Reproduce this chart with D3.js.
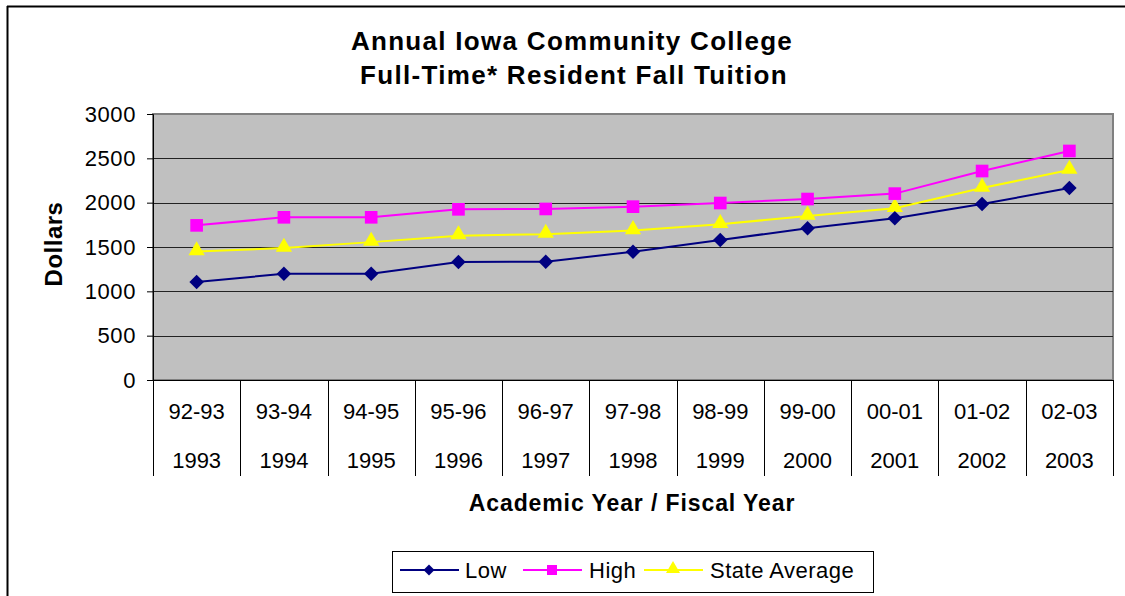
<!DOCTYPE html>
<html>
<head>
<meta charset="utf-8">
<script src="https://cdn.jsdelivr.net/npm/d3@7"></script>
<style>
	body { margin: 0; background: #fff; }
	text { font-family: "Liberation Sans", Arial, sans-serif; }
</style>
</head>
<body>
<svg width="1125" height="596"></svg>
<script>
// data
var academicYears = ['92-93','93-94','94-95','95-96','96-97','97-98','98-99','99-00','00-01','01-02','02-03'];
var fiscalYears = ['1993','1994','1995','1996','1997','1998','1999','2000','2001','2002','2003'];
var lowValues = [1105, 1198, 1198, 1330, 1334, 1447, 1579, 1711, 1824, 1985, 2165];
var highValues = [1744, 1835, 1835, 1925, 1929, 1955, 1996, 2041, 2102, 2357, 2583];
var avgValues = [1448, 1488, 1555, 1628, 1645, 1686, 1756, 1850, 1936, 2165, 2368];
var yTicks = [0, 500, 1000, 1500, 2000, 2500, 3000];

var svg = d3.select("svg"),
	width = +svg.attr("width"),
	height = +svg.attr("height");

var plot = { left: 153, right: 1113, top: 114, bottom: 380 };

// outer frame (only top and left edges show in the picture)
svg.append("line").attr("x1", 7).attr("y1", 6.5).attr("x2", width).attr("y2", 6.5)
	.attr("stroke", "#000").attr("stroke-width", 2);
svg.append("line").attr("x1", 7.5).attr("y1", 6).attr("x2", 7.5).attr("y2", height)
	.attr("stroke", "#000").attr("stroke-width", 2);

var x = d3.scaleBand()
	.domain(fiscalYears)
	.range([plot.left, plot.right]);

var y = d3.scaleLinear()
	.domain([0, 3000])
	.range([plot.bottom, plot.top]);

// plot background
svg.append("rect")
	.attr("x", plot.left).attr("y", plot.top)
	.attr("width", plot.right - plot.left).attr("height", plot.bottom - plot.top)
	.attr("fill", "#c0c0c0")
	.attr("stroke", "#808080").attr("stroke-width", 2);

// gridlines
svg.append("g")
	.selectAll("line")
	.data(yTicks.filter(function(d) { return d > 0 && d < 3000; }))
	.enter().append("line")
		.attr("x1", plot.left).attr("x2", plot.right)
		.attr("y1", function(d) { return Math.round(y(d)) + 0.5; })
		.attr("y2", function(d) { return Math.round(y(d)) + 0.5; })
		.attr("stroke", "#222").attr("stroke-width", 1);

// y axis
var yAxis = svg.append("g")
	.attr("transform", "translate(" + plot.left + ",0)")
	.call(d3.axisLeft(y).tickValues(yTicks).tickSize(6).tickPadding(11).tickFormat(d3.format("d")));
yAxis.select(".domain").attr("stroke", "#000");
yAxis.selectAll("text").attr("font-size", 22).attr("letter-spacing", 0.6).attr("fill", "#000")
	.attr("font-family", "Liberation Sans, Arial, sans-serif");

// category table below x axis
svg.append("line").attr("x1", plot.left - 6).attr("x2", plot.right + 1)
	.attr("y1", plot.bottom + 0.5).attr("y2", plot.bottom + 0.5).attr("stroke", "#000");

var bounds = fiscalYears.map(function(d) { return x(d); }).concat([plot.right]);
svg.append("g")
	.selectAll("line")
	.data(bounds)
	.enter().append("line")
		.attr("x1", function(d) { return Math.round(d) + 0.5; })
		.attr("x2", function(d) { return Math.round(d) + 0.5; })
		.attr("y1", plot.bottom).attr("y2", 476)
		.attr("stroke", "#000");

svg.append("g")
	.selectAll("text")
	.data(academicYears)
	.enter().append("text")
		.attr("x", function(d, i) { return x(fiscalYears[i]) + x.bandwidth() / 2; })
		.attr("y", 419)
		.attr("text-anchor", "middle")
		.attr("font-size", 22)
		.text(function(d) { return d; });

svg.append("g")
	.selectAll("text")
	.data(fiscalYears)
	.enter().append("text")
		.attr("x", function(d) { return x(d) + x.bandwidth() / 2; })
		.attr("y", 468)
		.attr("text-anchor", "middle")
		.attr("font-size", 22)
		.text(function(d) { return d; });

// titles
svg.append("text").attr("x", 572).attr("y", 50).attr("text-anchor", "middle")
	.attr("font-size", 26).attr("letter-spacing", 1.3).attr("font-weight", "bold").text("Annual Iowa Community College");
svg.append("text").attr("x", 574).attr("y", 84).attr("text-anchor", "middle")
	.attr("font-size", 26).attr("letter-spacing", 1.3).attr("font-weight", "bold").text("Full-Time* Resident Fall Tuition");
svg.append("text").attr("x", 632).attr("y", 511).attr("text-anchor", "middle")
	.attr("font-size", 23).attr("letter-spacing", 0.9).attr("font-weight", "bold").text("Academic Year / Fiscal Year");
svg.append("text")
	.attr("transform", "translate(62,244) rotate(-90)")
	.attr("text-anchor", "middle")
	.attr("font-size", 24).attr("letter-spacing", 0.5).attr("font-weight", "bold").text("Dollars");

// series
var series = [
	{ name: 'Low', values: lowValues, color: '#000080', shape: d3.symbolSquare, rot: 45, size: 105, lsize: 60 },
	{ name: 'High', values: highValues, color: '#ff00ff', shape: d3.symbolSquare, rot: 0, size: 160, lsize: 100 },
	{ name: 'State Average', values: avgValues, color: '#ffff00', shape: d3.symbolTriangle, rot: 0, size: 115, lsize: 85 }
];

var line = d3.line()
	.x(function(d, i) { return x(fiscalYears[i]) + x.bandwidth() / 2; })
	.y(function(d) { return y(d); });

// draw in reverse so Low sits on top
series.slice().reverse().forEach(function(s) {
	var g = svg.append("g");
	g.append("path")
		.datum(s.values)
		.attr("d", line)
		.attr("fill", "none")
		.attr("stroke", s.color)
		.attr("stroke-width", 2);
	g.selectAll("path.marker")
		.data(s.values)
		.enter().append("path")
			.attr("class", "marker")
			.attr("d", d3.symbol().type(s.shape).size(s.size))
			.attr("transform", function(d, i) {
				var dy = s.shape === d3.symbolTriangle ? -1 : 0;
				return "translate(" + (x(fiscalYears[i]) + x.bandwidth() / 2) + "," + (y(d) + dy) + ") rotate(" + s.rot + ")";
			})
			.attr("fill", s.color);
});

// legend
var legend = svg.append("g");
legend.append("rect")
	.attr("x", 392.5).attr("y", 551.5).attr("width", 481).attr("height", 41)
	.attr("fill", "#fff").attr("stroke", "#000").attr("stroke-width", 1);

var legendX = [400, 523, 644];
var legendText = [465, 589, 710];
series.forEach(function(s, i) {
	var lg = legend.append("g");
	lg.append("line")
		.attr("x1", legendX[i]).attr("x2", legendX[i] + 59)
		.attr("y1", 570).attr("y2", 570)
		.attr("stroke", s.color).attr("stroke-width", 2);
	lg.append("path")
		.attr("d", d3.symbol().type(s.shape).size(s.lsize))
		.attr("transform", "translate(" + (legendX[i] + 29) + "," + (s.shape === d3.symbolTriangle ? 569 : 570) + ") rotate(" + s.rot + ")")
		.attr("fill", s.color);
	lg.append("text")
		.attr("x", legendText[i]).attr("y", 578)
		.attr("font-size", 22).attr("letter-spacing", 0.5)
		.text(s.name);
});
</script>
</body>
</html>
